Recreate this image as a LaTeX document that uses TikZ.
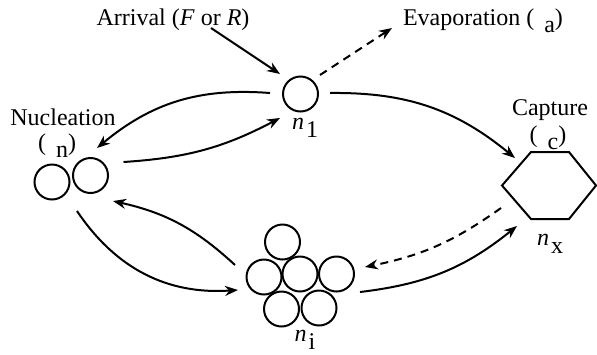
\documentclass[tikz,border=0pt]{standalone}
\usepackage{fontspec}
\setmainfont{Liberation Serif}
\usetikzlibrary{arrows.meta,calc}
\tikzset{
  atom/.style={circle, draw, line width=1pt, inner sep=0pt, minimum size=17.5pt},
  lab/.style={anchor=base, inner sep=0pt, font=\fontsize{12}{14}\selectfont},
  flow/.style={-{Stealth[length=6.5pt, width=5pt]}, line width=1pt},
  loss/.style={flow, dash pattern=on 4pt off 3pt},
  edge/.style={line width=1pt, line join=miter},
}
\newcommand{\sizelab}[1]{\textit{n}\hspace{1pt}\raisebox{-4pt}{#1}}
\newcommand{\ratelab}[1]{(\hspace{5pt}\raisebox{-3.5pt}{#1})}

\begin{document}
\begin{tikzpicture}[x=0.5pt, y=-0.5pt]
  \useasboundingbox (0,0) rectangle (597,354);
  % monomer
  \node[atom] (n1) at (300.5,94) {};
  \node[lab] (n1lab) at (305,129) {\sizelab{1}};
  % nucleus pair
  \node[atom] (nA) at (52,182) {};
  \node[atom] (nB) at (90.5,175.5) {};
  % cluster of size i
  \node[atom] (iT) at (282.5,242) {};
  \node[atom] (iL) at (264,277) {};
  \node[atom] (iC) at (300,274) {};
  \node[atom] (iR) at (336.5,274) {};
  \node[atom] (iBL) at (281.5,309) {};
  \node[atom] (iBR) at (319,308) {};
  \node[lab] (nilab) at (305,341) {\sizelab{i}};
  % capture site
  \coordinate (hex) at (549.5,185.5);
  \draw[edge] ($(hex)+(-47.5,0)$) -- ++(29,-33.5) -- ++(38,0) -- ++(27,33.5)
    -- ++(-27,33.5) -- ++(-38,0) -- cycle;
  \node[lab] (nxlab) at (550,245) {\sizelab{x}};
  % labels
  \node[lab] (arrival) at (173,25) {Arrival (\textit{F} or \textit{R})};
  \node[lab] (evap) at (483,25) {Evaporation \ratelab{a}};
  \node[lab] (nuc) at (63,125) {Nucleation};
  \node[lab] (nucrate) at (57,150) {\ratelab{n}};
  \node[lab] (capt) at (550,115) {Capture};
  \node[lab] (captrate) at (548,142) {\ratelab{c}};
  % processes
  \draw[flow] ($(arrival.base)+(38,3)$) -- ($(n1)+(-20.5,-20)$);
  \draw[loss] ($(n1)+(19.5,-19)$) -- ($(evap.base)+(-91,3)$);
  \draw[flow] ($(n1)+(29.5,-1)$) to[bend left=20] ($(hex)+(-34.5,-27.5)$);
  \draw[flow] ($(n1)+(-30.5,-1)$) to[bend right=22] ($(nB)+(6.5,-27.5)$);
  \draw[flow] ($(nB)+(33,-13.5)$) to[bend right=12] ($(n1)+(-20.5,24)$);
  \draw[flow] ($(iL)+(-29,-12)$) to[bend right=15] ($(nB)+(22.5,25.5)$);
  \draw[flow] ($(nB)+(-13.5,35.5)$) to[bend right=30] ($(iL)+(-26,13)$);
  \draw[loss] ($(hex)+(-48.5,22.5)$) to[bend left=12] ($(iR)+(28.5,-7)$);
  \draw[flow] ($(iR)+(23.5,18)$) to[bend right=16] ($(hex)+(-32.5,40.5)$);
\end{tikzpicture}
\end{document}
